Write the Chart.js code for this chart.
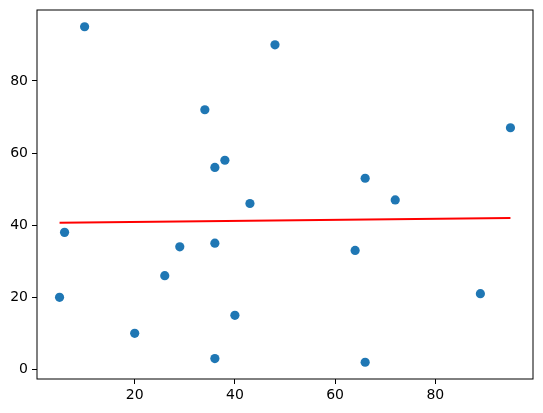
<!DOCTYPE html>
<html>
<head>
<meta charset="utf-8">
<script src="https://cdn.jsdelivr.net/npm/chart.js@4.4.1/dist/chart.umd.min.js"></script>
<style>
  html, body { margin: 0; padding: 0; background: #fff; }
  #wrap { width: 543px; height: 413px; }
</style>
</head>
<body>
<div id="wrap"><canvas id="scatterChart"></canvas></div>
<script>
// scatter points
const xValues = [5, 6, 10, 20, 26, 29, 34, 36, 36, 36, 38, 40, 43, 48, 64, 66, 66, 72, 89, 95];
const yValues = [20, 38, 95, 10, 26, 34, 72, 56, 35, 3, 58, 15, 46, 90, 33, 53, 2, 47, 21, 67];

// fitted line ends
const fitX = [5, 95];
const fitY = [40.7, 42.0];

const xTicks = [20, 40, 60, 80];
const yTicks = [0, 20, 40, 60, 80];

const points = xValues.map((x, i) => ({ x: x, y: yValues[i] }));
const fitLine = fitX.map((x, i) => ({ x: x, y: fitY[i] }));

// full black frame like matplotlib spines
const frame = {
  id: 'frame',
  afterDraw(chart) {
    const a = chart.chartArea;
    const c = chart.ctx;
    c.save();
    c.strokeStyle = '#000';
    c.lineWidth = 1;
    c.strokeRect(a.left, a.top, a.right - a.left, a.bottom - a.top);
    c.restore();
  }
};

const tickFont = { family: 'DejaVu Sans', size: 14 };

const ctx = document.getElementById('scatterChart').getContext('2d');

const scatterChart = new Chart(ctx, {
  type: 'scatter',
  data: {
    datasets: [{
      type: 'line',
      data: fitLine,
      borderColor: '#ff0000',
      borderWidth: 2,
      pointRadius: 0,
      fill: false,
      order: 0
    }, {
      data: points,
      backgroundColor: '#1f77b4',
      borderWidth: 0,
      pointRadius: 4.6,
      pointHoverRadius: 5.5,
      order: 1
    }]
  },
  options: {
    responsive: true,
    maintainAspectRatio: false,
    animation: false,
    layout: { padding: { left: 0, top: 10, right: 10, bottom: 0 } },
    plugins: {
      legend: { display: false },
      tooltip: { enabled: true }
    },
    scales: {
      x: {
        type: 'linear',
        min: 0.5,
        max: 99.5,
        afterBuildTicks: s => { s.ticks = xTicks.map(v => ({ value: v })); },
        afterFit: s => { s.height = 34; s.paddingLeft = 0; s.paddingRight = 0; },
        border: { display: false },
        grid: { drawOnChartArea: false, drawTicks: true, tickLength: 5, color: '#000' },
        ticks: { color: '#000', font: tickFont, padding: 3, maxRotation: 0 }
      },
      y: {
        type: 'linear',
        min: -2.65,
        max: 99.65,
        afterBuildTicks: s => { s.ticks = yTicks.map(v => ({ value: v })); },
        afterFit: s => { s.width = 37; s.paddingTop = 0; s.paddingBottom = 0; },
        border: { display: false },
        grid: { drawOnChartArea: false, drawTicks: true, tickLength: 5, color: '#000' },
        ticks: { color: '#000', font: tickFont, padding: 4 }
      }
    }
  },
  plugins: [frame]
});
</script>
</body>
</html>
